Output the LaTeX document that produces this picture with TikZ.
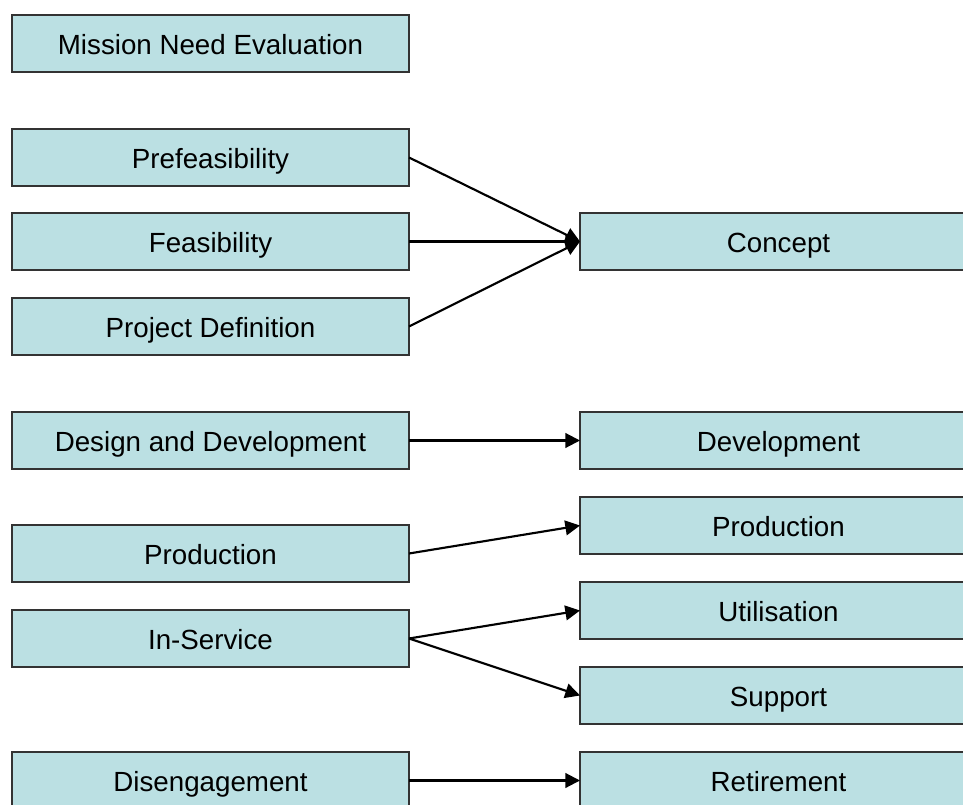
\documentclass[tikz,border=0pt]{standalone}
\usepackage{fontspec}
\setmainfont{Liberation Sans}
\usetikzlibrary{positioning,arrows.meta}
\definecolor{boxfill}{HTML}{BBE0E3}
\definecolor{boxline}{HTML}{333333}

\begin{document}
\begin{tikzpicture}[
    x=0.75pt, y=-0.75pt,
    box/.style={draw=boxline, fill=boxfill, line width=1pt,
                minimum width=297.75pt, minimum height=42.75pt,
                inner sep=0pt, outer sep=0pt,
                text height=17pt, text depth=0.8pt,
                font=\fontsize{20.8}{24}\selectfont},
    arr/.style={-{Triangle[length=11pt, width=11pt]}, line width=1.6pt}
  ]
  \clip (0,0) rectangle (963,805);

  % Left column
  \node[box] (mission) at (210.5,43.5) {Mission Need Evaluation};
  \node[box] (prefeas) at (210.5,157.5) {Prefeasibility};
  \node[box] (feas) at (210.5,241.5) {Feasibility};
  \node[box] (projdef) at (210.5,326.5) {Project Definition};
  \node[box] (design) at (210.5,440.5) {Design and Development};
  \node[box] (prodL) at (210.5,553.5) {Production};
  \node[box] (inserv) at (210.5,638.5) {In-Service};
  \node[box] (diseng) at (210.5,780.5) {Disengagement};

  % Right column
  \node[box] (concept) at (778.5,241.5) {Concept};
  \node[box] (develop) at (778.5,440.5) {Development};
  \node[box] (prodR) at (778.5,525.5) {Production};
  \node[box] (util) at (778.5,610.5) {Utilisation};
  \node[box] (support) at (778.5,695.5) {Support};
  \node[box] (retire) at (778.5,780.5) {Retirement};

  % Arrows
  \draw[arr] (prefeas.east) -- (concept.west);
  \draw[arr] (feas.east) -- (concept.west);
  \draw[arr] (projdef.east) -- (concept.west);
  \draw[arr] (design.east) -- (develop.west);
  \draw[arr] (prodL.east) -- (prodR.west);
  \draw[arr] (inserv.east) -- (util.west);
  \draw[arr] (inserv.east) -- (support.west);
  \draw[arr] (diseng.east) -- (retire.west);
\end{tikzpicture}
\end{document}
